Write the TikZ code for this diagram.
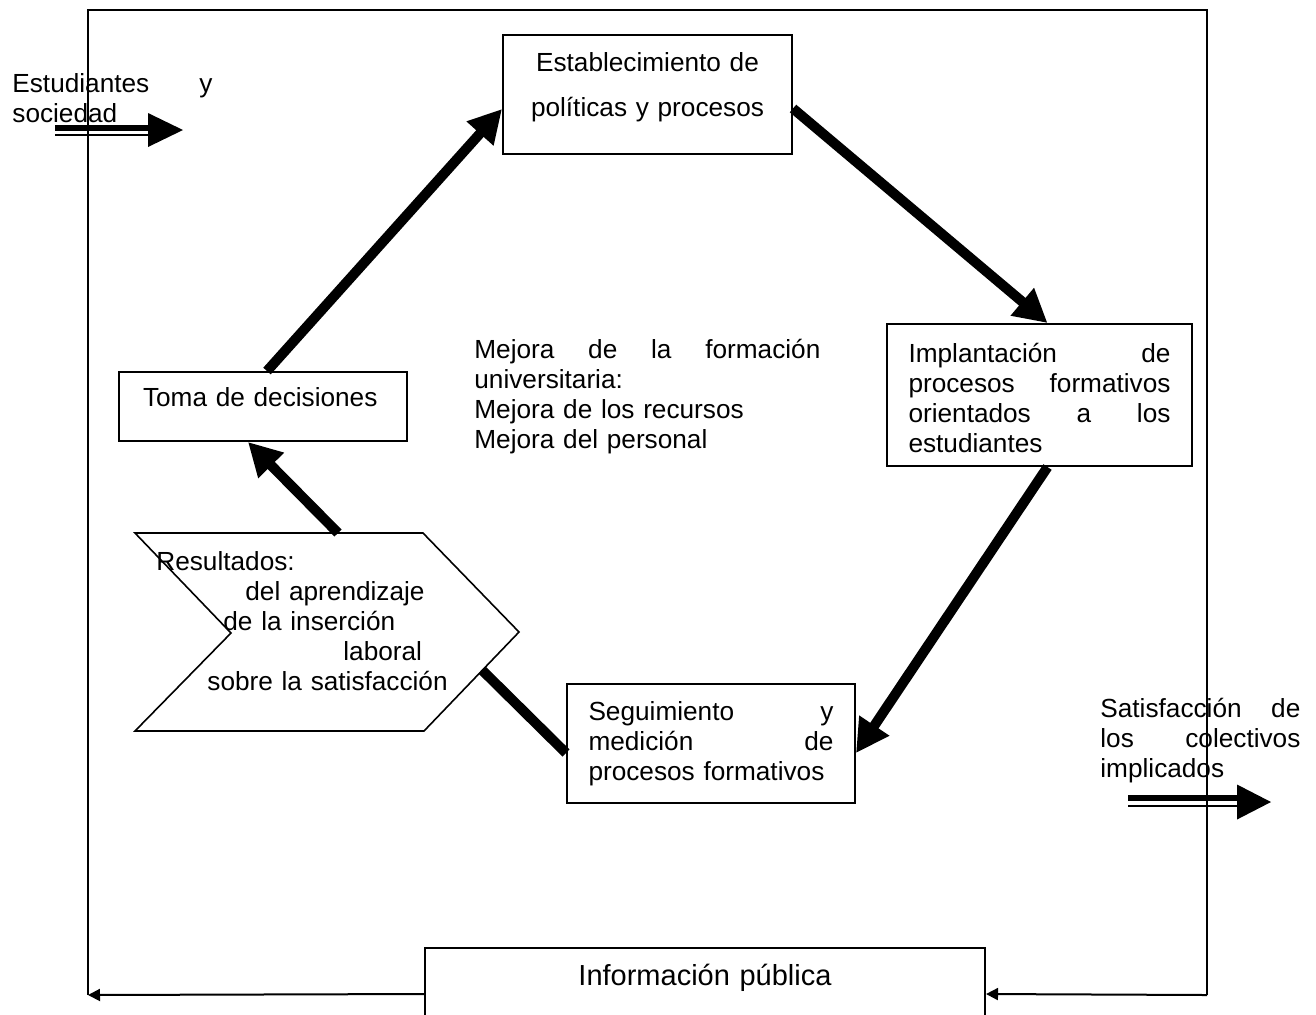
\documentclass[tikz,border=0pt]{standalone}
\usepackage{fontspec}
\setmainfont{Liberation Sans}
\usetikzlibrary{arrows.meta,positioning}

\begin{document}
\begin{tikzpicture}
[x=0.5pt,y=-0.5pt,
 every node/.style={font=\fontsize{13.1}{15}\selectfont,inner sep=0pt},
 procbox/.style={draw,line width=1pt,text width=#1,align=left},
 bigarrow/.style={line width=5pt,-{Triangle[length=16.5pt,width=17pt]}},
 thinarrow/.style={line width=1pt,-{Triangle[length=6pt,width=6pt]}}]

\useasboundingbox (0,0) rectangle (1316,1014);

\coordinate (tl) at (88,10);
\coordinate (tr) at (1207,10);
\coordinate (bl) at (88,995);
\coordinate (br) at (1207,995);

\node[procbox=140pt,align=center,minimum width=144.5pt,text height=18pt,text depth=41.5pt] (estab) at (647.5,94.5) {Establecimiento de\\[7.75pt]políticas y procesos};
\node[procbox=131pt,minimum width=152.5pt,text height=19pt,text depth=52pt] (impl) at (1039.5,395) {Implantación \hfill de\\procesos \hfill formativos\\orientados \hfill a \hfill los\\estudiantes};
\node[procbox=122.5pt,minimum width=144pt,text height=18pt,text depth=41.5pt] (seg) at (711,743.5) {Seguimiento \hfill y\\medición \hfill de\\procesos formativos};
\node[procbox=120pt,minimum width=144pt,text height=17pt,text depth=17.5pt] (toma) at (263,406.5) {Toma de decisiones};
\node[procbox=270pt,align=center,minimum width=280pt,text height=18.5pt,text depth=27.5pt,font=\fontsize{14.5}{17}\selectfont] (info) at (705,994) {Información pública};

\node[text width=173pt,align=left,anchor=base west] (mejora) at (474,358) {Mejora \hfill de \hfill la \hfill formación\\universitaria:\\Mejora de los recursos\\Mejora del personal};

\draw[line width=0.8pt] (135,533) -- (423,533) -- (519,632) -- (424,731) -- (135,731) -- (231,633) -- cycle;
\node[text width=160pt,align=left,anchor=base west] (res) at (156,570) {Resultados:\\\hspace*{44.5pt}del aprendizaje\\\hspace*{33.5pt}de la inserción\\\hspace*{93.5pt}laboral\\\hspace*{25.5pt}sobre la satisfacción};
\coordinate (restop) at (338,533);
\coordinate (resedge) at (482,670);

\node[text width=100pt,align=left,anchor=base west] (est) at (12,92) {Estudiantes \hfill y\\sociedad};
\node[text width=100pt,align=left,anchor=base west] (sat) at (1100,717) {Satisfacción \hfill de\\los \hfill colectivos\\implicados};

\draw[bigarrow] ([xshift=2pt]toma.north) -- ([yshift=-7.25pt]estab.west);
\draw[bigarrow] ([yshift=-7pt]estab.east) -- ([xshift=4pt]impl.north);
\draw[bigarrow] ([xshift=4pt]impl.south) -- ([yshift=-4.75pt]seg.east);
\draw[line width=5pt] ([yshift=-4.75pt]seg.west) -- (resedge);
\draw[bigarrow] (restop) -- ([xshift=-7.5pt]toma.south);

\coordinate (inA) at (55,130);
\coordinate (inB) at (183,130);
\draw[line width=2.85pt] ([shift={(0,-2)}]inA) -- ([shift={(-35,-2)}]inB);
\draw[line width=1pt] ([shift={(0,5)}]inA) -- ([shift={(-35,5)}]inB);
\fill (inB) -- ++(-35,-17) -- ++(0,34) -- cycle;

\coordinate (outA) at (1128,802);
\coordinate (outB) at (1271,802);
\draw[line width=2.85pt] ([shift={(0,-4)}]outA) -- ([shift={(-34,-4)}]outB);
\draw[line width=1pt] ([shift={(0,4)}]outA) -- ([shift={(-34,4)}]outB);
\fill (outB) -- ++(-34,-17.5) -- ++(0,35) -- cycle;

\draw[line width=1pt] (bl) -- (tl) -- (tr) -- (br);
\draw[thinarrow] (br) -- (info.east);
\draw[thinarrow] (info.west) -- (bl);
\end{tikzpicture}
\end{document}
